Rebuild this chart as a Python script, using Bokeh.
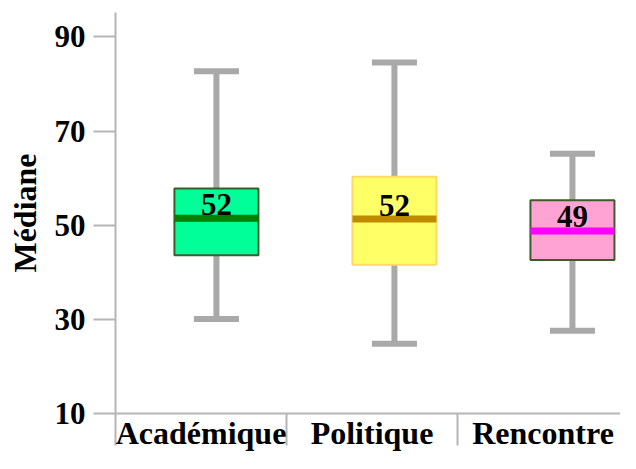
import numpy as np
from bokeh.plotting import figure
from bokeh.models import Range1d, LinearAxis, FixedTicker, ColumnDataSource
from bokeh.core.properties import value
from bokeh.embed import file_html
from bokeh.resources import INLINE

# ---- data ----
categories = ["Académique", "Politique", "Rencontre"]
whisker_low = [30.1, 24.8, 27.6]
q1 = [43.6, 41.6, 42.6]
median = [51.5, 51.3, 48.8]
q3 = [57.8, 60.3, 55.3]
whisker_high = [82.7, 84.6, 65.2]
median_labels = ["52", "52", "49"]
y_ticks = [10, 30, 50, 70, 90]

fill_colors = ["#00FF99", "#FFFF66", "#FFA3D4"]
line_colors = ["#3E5B2B", "#FFD966", "#3E5B2B"]
median_colors = ["#008000", "#C08A00", "#FF00FF"]

FONT_NAME = "Liberation Serif"
FONT = value(FONT_NAME)

n = len(categories)
xc = np.arange(n) + 0.5
box_w = 0.472
cap_w = 0.253

src = ColumnDataSource(dict(
    x=xc, lo=whisker_low, q1=q1, med=median, q3=q3, hi=whisker_high,
    lab=median_labels, fill=fill_colors, line=line_colors, mcol=median_colors,
    xl=xc - box_w / 2, xr=xc + box_w / 2, cl=xc - cap_w / 2, cr=xc + cap_w / 2,
))

p = figure(width=620, height=453, output_backend="svg", toolbar_location=None,
           x_range=Range1d(0, 2.953), y_range=Range1d(10, 95.2),
           x_axis_type=None, y_axis_type=None,
           min_border_left=115, min_border_right=0, min_border_top=12, min_border_bottom=30)
p.extra_x_ranges = {"box": Range1d(-0.067, 2.770)}
p.xgrid.grid_line_color = None
p.ygrid.grid_line_color = None
p.outline_line_color = None
p.background_fill_color = "white"
p.border_fill_color = "white"

axis_gray = "#B5B5B5"

# y axis
yaxis = LinearAxis(ticker=FixedTicker(ticks=y_ticks, minor_ticks=[]))
yaxis.axis_label = "Médiane"
yaxis.axis_label_text_font = FONT_NAME
yaxis.axis_label_text_font_style = "bold"
yaxis.axis_label_text_font_size = "32px"
yaxis.axis_label_text_color = "black"
yaxis.axis_label_standoff = 9
yaxis.major_label_text_font = FONT_NAME
yaxis.major_label_text_font_style = "bold"
yaxis.major_label_text_font_size = "31px"
yaxis.major_label_text_color = "black"
yaxis.major_label_standoff = 8
yaxis.major_tick_out = 22
yaxis.major_tick_in = 0
yaxis.major_tick_line_color = axis_gray
yaxis.major_tick_line_width = 2
yaxis.axis_line_color = axis_gray
yaxis.axis_line_width = 2
p.add_layout(yaxis, "left")

# x axis
xaxis = LinearAxis(ticker=FixedTicker(ticks=list(xc), minor_ticks=list(range(n))))
xaxis.major_label_overrides = {float(v): c for v, c in zip(xc, categories)}
xaxis.major_label_text_font = FONT_NAME
xaxis.major_label_text_font_style = "bold"
xaxis.major_label_text_font_size = "32px"
xaxis.major_label_text_color = "black"
xaxis.major_label_standoff = -31
xaxis.major_tick_line_color = None
xaxis.major_tick_out = 0
xaxis.major_tick_in = 0
xaxis.minor_tick_out = 32
xaxis.minor_tick_in = 0
xaxis.minor_tick_line_color = axis_gray
xaxis.minor_tick_line_width = 2
xaxis.axis_line_color = axis_gray
xaxis.axis_line_width = 2
p.add_layout(xaxis, "below")

whisk = "#A9A9A9"
# whiskers
p.segment(x0="x", y0="q3", x1="x", y1="hi", source=src, line_color=whisk, line_width=6,
          x_range_name="box")
p.segment(x0="x", y0="lo", x1="x", y1="q1", source=src, line_color=whisk, line_width=6,
          x_range_name="box")
# caps
p.segment(x0="cl", y0="hi", x1="cr", y1="hi", source=src, line_color=whisk, line_width=6,
          x_range_name="box")
p.segment(x0="cl", y0="lo", x1="cr", y1="lo", source=src, line_color=whisk, line_width=6,
          x_range_name="box")
# boxes
p.vbar(x="x", width=box_w, bottom="q1", top="q3", source=src, fill_color="fill",
       line_color="line", line_width=2, x_range_name="box")
# medians
p.segment(x0="xl", y0="med", x1="xr", y1="med", source=src, line_color="mcol", line_width=7,
          x_range_name="box")
# labels
p.text(x="x", y="med", text="lab", source=src, text_font=FONT, text_font_style="bold",
       text_font_size="31px", text_color="black", text_align="center",
       text_baseline="middle", y_offset=-14, x_range_name="box")

open("out.html", "w").write(file_html(p, INLINE))
